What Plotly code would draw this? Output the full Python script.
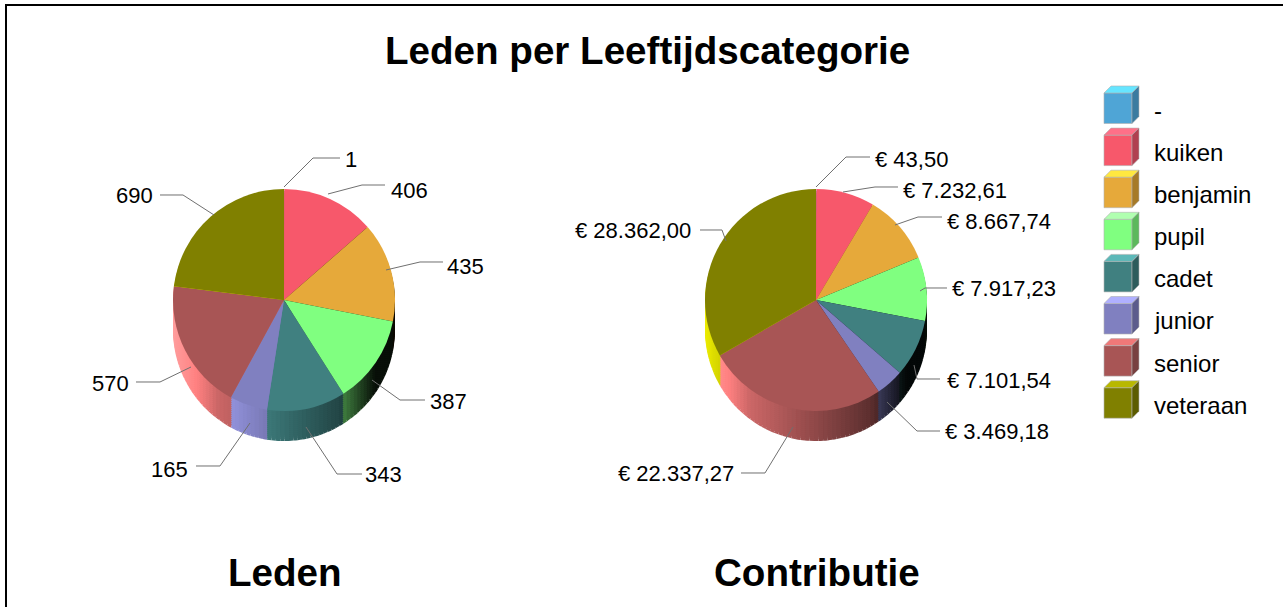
import math
import plotly.graph_objects as go

# ---- data ----
categories = ["-", "kuiken", "benjamin", "pupil", "cadet", "junior", "senior", "veteraan"]
leden = [1, 406, 435, 387, 343, 165, 570, 690]
contributie = [43.50, 7232.61, 8667.74, 7917.23, 7101.54, 3469.18, 22337.27, 28362.00]
title = "Leden per Leeftijdscategorie"
pie_titles = ["Leden", "Contributie"]

# ---- styles / layout ----
W, H = 1283, 607
FONT = "Liberation Sans"
colors = ["#4FA5D6", "#F7586B", "#E6A93A", "#80FF80", "#408080", "#8080C0", "#A85555", "#808000"]
cube_top = ["#66E5FF", "#FF7088", "#FFE840", "#B0FFB0", "#5CB8B8", "#B0B0FF", "#F07878", "#B8B800"]
cube_side = ["#3A7BA0", "#B04050", "#A67A28", "#5CB85C", "#2E5C5C", "#5C5C8C", "#784040", "#5C5C00"]
R, CY, DEPTH = 111, 300, 30
CX = [284, 816]

# leader polylines (pixels) and label anchor for each slice
leaders = [
    [[(284,187),(313,158),(340,158)], [(328,194),(362,185),(385,185)], [(386,270),(420,262),(443,262)],
     [(372,380),(400,400),(425,400)], [(306,427),(337,474),(362,474)], [(250,423),(220,466),(196,466)],
     [(191,367),(160,382),(136,382)], [(214,215),(183,195),(160,195)]],
    [[(816,187),(846,157),(870,157)], [(843,192),(875,187),(898,187)], [(895,225),(918,217),(942,217)],
     [(920,291),(925,288),(947,288)], [(914,365),(917,379),(940,379)], [(887,402),(917,431),(940,431)],
     [(793,427),(765,473),(741,473)], [(726,241),(722,230),(700,230)]],
]
label_pos = [
    [(343,160,"left"),(389,190,"left"),(445,266,"left"),(428,401,"left"),(363,474,"left"),(190,469,"right"),(131,383,"right"),(155,195,"right")],
    [(873,160,"left"),(901,190,"left"),(945,221,"left"),(950,288,"left"),(945,380,"left"),(943,431,"left"),(736,473,"right"),(693,231,"right")],
]


def shade(hex_color, f):
    rgb = [int(hex_color[i:i + 2], 16) for i in (1, 3, 5)]
    return "rgb(%d,%d,%d)" % tuple(min(255, round(c * f)) for c in rgb)


def rim_factor(x):
    """Brightness of the pie's rim at horizontal position x in [-1, 1]."""
    f = 0.85 - 0.6 * x
    if x < -0.6:
        f += (-0.6 - x) * 1.0
    if x > 0.5:
        f -= (x - 0.5) * 0.3 / 0.5 + (x - 0.5) * 0.3
    return max(0.06, f)


def side_slices(values):
    """Split each slice in short arcs, shaded by horizontal position, for the pie's rim."""
    total = sum(values)
    vals, cols, cum = [], [], 0.0
    for v, c in zip(values, colors):
        n = max(1, math.ceil(v / total * 150))
        for k in range(n):
            mid = (cum + v * (k + 0.5) / n) / total * 2 * math.pi
            vals.append(v / n)
            cols.append(shade(c, rim_factor(math.sin(mid))))
        cum += v
    return vals, cols


def domain(cx, dy):
    cy = CY + dy
    return dict(x=[(cx - R) / W, (cx + R) / W], y=[1 - (cy + R) / H, 1 - (cy - R) / H])


def dutch(v):
    s = f"{v:,.2f}"
    return "€ " + s.replace(",", "#").replace(".", ",").replace("#", ".")


def px(x):
    return x / W


def py(y):
    return 1 - y / H


fig = go.Figure()
series = [leden, contributie]
for values, cx, name in zip(series, CX, pie_titles):
    vals, cols = side_slices(values)
    for d in range(DEPTH, 0, -2):
        fig.add_trace(go.Pie(values=vals, domain=domain(cx, d), sort=False, direction="clockwise", rotation=0,
                             marker=dict(colors=cols, line=dict(width=0)), textinfo="none",
                             hoverinfo="skip", showlegend=False))
    fig.add_trace(go.Pie(labels=categories, values=values, name=name, domain=domain(cx, 0), sort=False,
                         direction="clockwise", rotation=0, marker=dict(colors=colors, line=dict(width=0)),
                         textinfo="none", showlegend=False))

shapes, ann = [], []


def text(x, y, s, size, anchor="left", bold=False):
    ann.append(dict(x=px(x), y=py(y), xref="paper", yref="paper", text=f"<b>{s}</b>" if bold else s,
                    showarrow=False, xanchor=anchor, yanchor="middle",
                    font=dict(family=FONT, size=size, color="#000000")))


# frame (left and top only)
shapes.append(dict(type="line", xref="paper", yref="paper", x0=px(6), x1=px(6), y0=0, y1=py(4), line=dict(color="#000000", width=2)))
shapes.append(dict(type="line", xref="paper", yref="paper", x0=px(5), x1=1, y0=py(5), y1=py(5), line=dict(color="#000000", width=2)))

# leader lines and value labels
fmt = [str, dutch]
for p in range(2):
    for i in range(len(categories)):
        pts = leaders[p][i]
        path = "M" + " L".join(f"{px(x):.5f} {py(y):.5f}" for x, y in pts)
        shapes.append(dict(type="path", xref="paper", yref="paper", path=path, line=dict(color="#707070", width=1)))
        lx, ly, a = label_pos[p][i]
        text(lx, ly, fmt[p](series[p][i]), 22, a)

# legend of small cubes
for i, cat in enumerate(categories):
    top = 93 + 42.1 * i
    x0, x1, b, dx, dy = 1104, 1132, top + 30.5, 7, 7
    faces = [([(x0, top), (x1, top), (x1, b), (x0, b)], colors[i]),
             ([(x0, top), (x0 + dx, top - dy), (x1 + dx, top - dy), (x1, top)], cube_top[i]),
             ([(x1, top), (x1 + dx, top - dy), (x1 + dx, b - dy), (x1, b)], cube_side[i])]
    for pts, col in faces:
        path = "M" + " L".join(f"{px(x):.5f} {py(y):.5f}" for x, y in pts) + " Z"
        shapes.append(dict(type="path", xref="paper", yref="paper", path=path, fillcolor=col,
                           line=dict(color="#B0B0B0", width=0.6)))
    text(1151.5, top + 17.5, cat, 24)

# titles
text(647, 50, title, 38.6, "center", True)
text(285, 572, pie_titles[0], 38.6, "center", True)
text(817, 572, pie_titles[1], 38.6, "center", True)

fig.update_layout(width=W, height=H, autosize=False, margin=dict(l=0, r=0, t=0, b=0),
                  paper_bgcolor="#FFFFFF", plot_bgcolor="#FFFFFF", shapes=shapes, annotations=ann,
                  showlegend=False)
fig.write_html("out.html", config=dict(displayModeBar=False),
               post_script="document.body.style.margin='0';document.documentElement.style.overflow='hidden';")
